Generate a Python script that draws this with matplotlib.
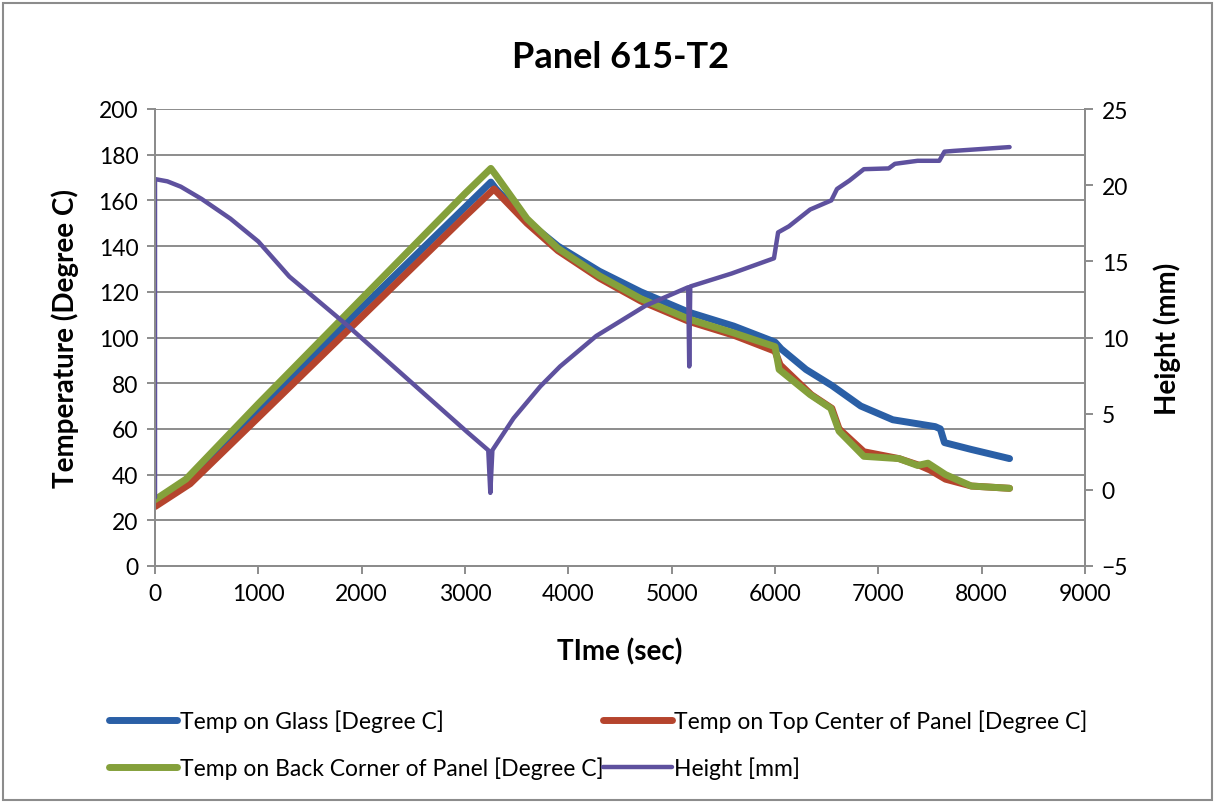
import matplotlib.pyplot as plt
from matplotlib.patches import Rectangle

plt.rcParams['font.family'] = ['Lato', 'DejaVu Sans']

# Temperature readings (time in sec, degree C)
t_glass = [0, 300, 1000, 2000, 3000, 3250, 3300, 3600, 3900, 4300, 4700, 5170,
           5600, 6000, 6060, 6300, 6550, 6830, 7140, 7550, 7600, 7640, 7900, 8270]
temp_glass = [28, 37, 68, 113, 157, 168, 165, 151, 140, 129, 120, 111,
              105, 98, 95, 86, 79, 70, 64, 61, 60, 54, 51, 47]

t_top = [0, 340, 1000, 2000, 3000, 3280, 3600, 3900, 4300, 4700, 5170, 5600,
         6000, 6050, 6350, 6550, 6620, 6860, 7200, 7400, 7500, 7650, 7900, 8270]
temp_top = [26, 36, 65, 109, 153, 165, 150, 138, 126, 116, 107, 101,
            94, 88, 75, 69, 60, 50, 47, 44, 42, 38, 35, 34]

t_back = [0, 300, 1000, 2000, 3000, 3250, 3300, 3600, 3900, 4300, 4700, 5170,
          5600, 6000, 6040, 6340, 6540, 6620, 6860, 7200, 7380, 7480, 7650, 7900, 8270]
temp_back = [29, 38, 71, 117, 163, 174, 171, 152, 139, 127, 117, 108,
             102, 96, 86, 75, 69, 59, 48, 47, 44, 45, 40, 35, 34]

# Height readings (time in sec, mm)
t_height = [0, 0, 120, 250, 450, 730, 1000, 1300, 1860, 2440, 3020, 3225, 3245, 3265,
            3470, 3730, 3920, 4270, 4750, 5160, 5170, 5180, 5580, 5990, 6030,
            6135, 6340, 6545, 6600, 6720, 6860, 7100, 7160, 7380, 7590, 7640,
            7730, 8270]
height = [-0.5, 20.4, 20.25, 19.9, 19.1, 17.8, 16.3, 14.0, 10.8, 7.3, 3.8, 2.6, -0.2, 2.6,
          4.7, 6.8, 8.1, 10.1, 12.1, 13.3, 8.1, 13.35, 14.2, 15.2, 16.9,
          17.3, 18.4, 19.0, 19.75, 20.3, 21.05, 21.1, 21.4, 21.6, 21.6, 22.2,
          22.25, 22.5]

labels = ['Temp on Glass [Degree C]', 'Temp on Top Center of Panel [Degree C]',
          'Temp on Back Corner of Panel [Degree C]', 'Height [mm]']
colors = ['#2A5FA6', '#B5442D', '#84A03B', '#5E519E']
grid_color = '#8C8C8C'

fig = plt.figure(figsize=(12.15, 8.04), dpi=100)
ax = fig.add_axes([155 / 1215, 1 - 567 / 804, 930 / 1215, 457 / 804])
ax2 = ax.twinx()

l_glass, = ax.plot(t_glass, temp_glass, color=colors[0], lw=5, solid_capstyle='round')
l_top, = ax.plot(t_top, temp_top, color=colors[1], lw=5, solid_capstyle='round')
l_back, = ax.plot(t_back, temp_back, color=colors[2], lw=5, solid_capstyle='round')
l_h, = ax2.plot(t_height, height, color=colors[3], lw=3.2, solid_capstyle='round')

ax.set_xlim(0, 9000)
ax.set_ylim(0, 200)
ax.set_xticks(range(0, 9001, 1000))
ax.set_yticks(range(0, 201, 20))
ax2.set_ylim(-5, 25)
ax2.set_yticks(range(-5, 26, 5))

ax.yaxis.grid(True, color=grid_color, lw=1.4)
ax.set_axisbelow(True)
for a in (ax, ax2):
    for s in a.spines.values():
        s.set_color(grid_color)
        s.set_linewidth(1.4)
    a.spines['top'].set_visible(False)
    a.tick_params(direction='out', length=6, width=1.4, color=grid_color,
                  labelsize=16.5, pad=6)

ax.set_title('Panel 615-T2', fontsize=26, fontweight='bold', pad=30)
ax.set_xlabel('TIme (sec)', fontsize=20, fontweight='bold', labelpad=24)
ax.set_ylabel('Temperature (Degree C)', fontsize=20, fontweight='bold', labelpad=14)
ax2.set_ylabel('Height (mm)', fontsize=20, fontweight='bold', labelpad=18)

# row-wise legend order as in the original
fig.legend([l_glass, l_back, l_top, l_h],
           [labels[0], labels[2], labels[1], labels[3]],
           ncol=2, loc='upper left', bbox_to_anchor=(88 / 1215, 1 - 690 / 804),
           frameon=False, fontsize=16.5, handlelength=3.0, handletextpad=0.1,
           columnspacing=0.0, labelspacing=1.05)

fig.patches.append(Rectangle((3 / 1215, 3 / 804), 1209 / 1215, 797 / 804,
                             transform=fig.transFigure, fill=False,
                             edgecolor='#8C8C8C', lw=1.5))

fig.savefig('out.png', dpi=100)
